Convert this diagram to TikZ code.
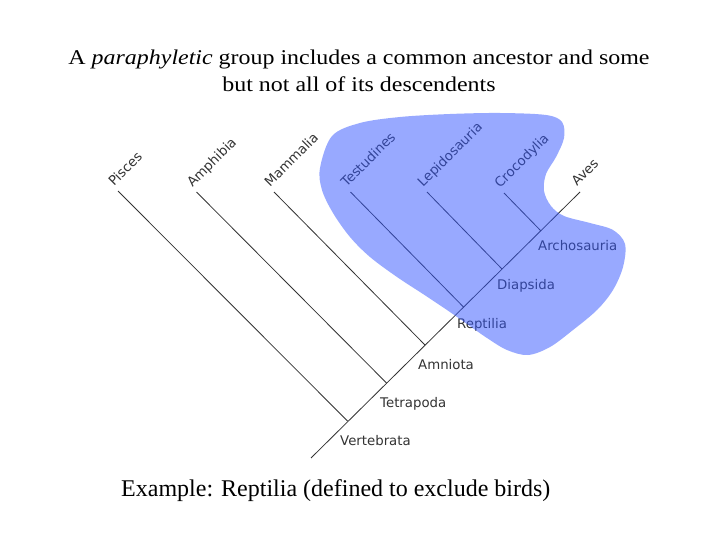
\documentclass[tikz,border=0pt]{standalone}
\usepackage{fontspec}
\setmainfont{Liberation Serif}
\newfontfamily\treefont{DejaVu Sans}
\definecolor{treegray}{HTML}{333333}
\definecolor{blobblue}{RGB}{51,85,255}
\begin{document}
\begin{tikzpicture}[x=1pt,y=-1pt,
  branch/.style={draw=treegray, line width=0.8pt},
  tiplabel/.style={rotate=45, anchor=base west, inner sep=0pt, font=\treefont\fontsize{13.3}{15}\selectfont, text=treegray},
  cladelabel/.style={anchor=north west, inner sep=0pt, font=\treefont\fontsize{13.3}{15}\selectfont, text=treegray},
  blob/.style={fill=blobblue, fill opacity=0.5, draw=none}]
\useasboundingbox (0,0) rectangle (720,540);
\fill[white] (0,0) rectangle (720,540);

% title
\node[anchor=base, inner sep=0pt, font=\fontsize{21}{24}\selectfont] (t1) at (359,65) {\scalebox{1.14}[1]{A \textit{paraphyletic} group includes a common ancestor and some}};
\node[anchor=base, inner sep=0pt, font=\fontsize{21}{24}\selectfont] (t2) at (359,92) {\scalebox{1.14}[1]{but not all of its descendents}};

% tree coordinates
\coordinate (root) at (311,458);
\coordinate (vert) at (347.5,421);
\coordinate (tetr) at (386.5,383);
\coordinate (amni) at (425,345);
\coordinate (rept) at (463.5,307);
\coordinate (diap) at (502,269);
\coordinate (arch) at (541,231);
\coordinate (aves) at (580,192);
\coordinate (pisc) at (118,191);
\coordinate (amph) at (196.5,192);
\coordinate (mamm) at (274,192);
\coordinate (test) at (350.5,192);
\coordinate (lepi) at (427,192);
\coordinate (croc) at (504,193);

\draw[branch] (root) -- (aves);
\draw[branch] (pisc) -- (vert);
\draw[branch] (amph) -- (tetr);
\draw[branch] (mamm) -- (amni);
\draw[branch] (test) -- (rept);
\draw[branch] (lepi) -- (diap);
\draw[branch] (croc) -- (arch);

% tip labels
\node[tiplabel] (lpisc) at ([shift={(-4,-4)}]pisc) {Pisces};
\node[tiplabel] (lamph) at ([shift={(-4,-4)}]amph) {Amphibia};
\node[tiplabel] (lmamm) at ([shift={(-4,-4)}]mamm) {Mammalia};
\node[tiplabel] (ltest) at ([shift={(-4,-4)}]test) {Testudines};
\node[tiplabel] (llepi) at ([shift={(-4,-4)}]lepi) {Lepidosauria};
\node[tiplabel] (lcroc) at ([shift={(-4,-4)}]croc) {Crocodylia};
\node[tiplabel] (laves) at ([shift={(-3,-5)}]aves) {Aves};

% clade labels
\node[cladelabel] (lvert) at (340,435) {Vertebrata};
\node[cladelabel] (ltetr) at (380,397) {Tetrapoda};
\node[cladelabel] (lamni) at (418,359) {Amniota};
\node[cladelabel] (lrept) at (457,318) {Reptilia};
\node[cladelabel] (ldiap) at (497,279) {Diapsida};
\node[cladelabel] (larch) at (538,240) {Archosauria};

% paraphyletic group blob
\path[blob] plot[smooth cycle, tension=0.55] coordinates {
 (320,168) (322,190) (333,213) (350,237) (370,257) (397,277) (423,294)
 (447,310) (467,324) (487,338) (507,350) (528,355) (550,347) (573,330)
 (597,310) (613,290) (623,267) (625,244) (613,230) (590,223) (564,216)
 (551,206) (544,191) (546,174) (556,157) (564,138) (562,122) (546,115)
 (500,113) (450,114) (400,117) (360,123) (332,136)};

% caption
\node[anchor=base west, inner sep=0pt, font=\fontsize{24}{28}\selectfont] (cap) at (121,496) {Example: Reptilia (defined to exclude birds)};
\end{tikzpicture}
\end{document}
